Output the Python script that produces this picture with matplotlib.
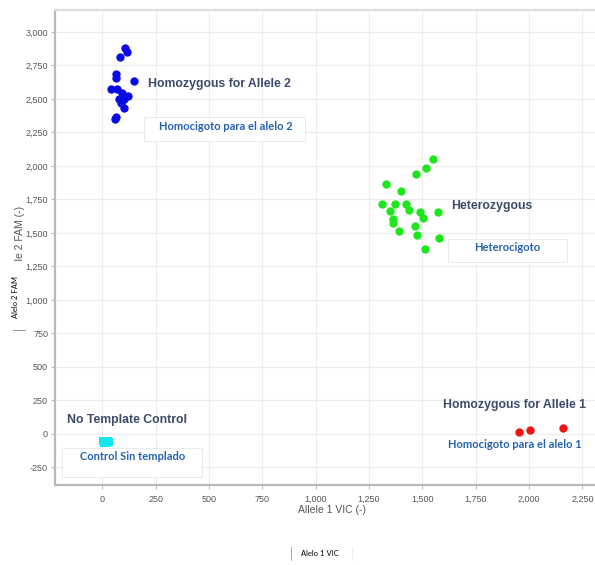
import matplotlib
matplotlib.use("Agg")
import matplotlib.pyplot as plt
from matplotlib.patches import Rectangle
from matplotlib.ticker import FuncFormatter

# ---------------- data ----------------
allele2_x = [104, 116, 81, 149, 66, 66, 42, 69, 92, 120, 76, 100, 88, 103, 66, 58]
allele2_y = [2880, 2847, 2814, 2635, 2685, 2660, 2578, 2578, 2541, 2523, 2503, 2498, 2468, 2436, 2369, 2348]

het_x = [1550, 1516, 1469, 1330, 1400, 1311, 1372, 1425, 1436, 1350, 1488, 1572, 1503, 1363, 1361, 1463, 1389, 1473, 1580, 1514]
het_y = [2049, 1987, 1942, 1868, 1812, 1713, 1718, 1713, 1670, 1665, 1655, 1658, 1613, 1606, 1571, 1551, 1513, 1483, 1463, 1381]

allele1_x = [1955, 2003, 2158]
allele1_y = [12, 30, 42]

ntc_x = [2, 8, 14, 20, 26, 30, 10, 22]
ntc_y = [-52, -60, -55, -62, -56, -60, -66, -66]

x_ticks = [0, 250, 500, 750, 1000, 1250, 1500, 1750, 2000, 2250]
y_ticks = [-250, 0, 250, 500, 750, 1000, 1250, 1500, 1750, 2000, 2250, 2500, 2750, 3000]

# ---------------- figure ----------------
fig = plt.figure(figsize=(5.95, 5.65), dpi=100)
W, H = 595, 565
ax = fig.add_axes([55 / W, 1 - 485 / H, 540 / W, 475 / H])

ax.set_xlim(-222, 2309)
ax.set_ylim(-381, 3164)

ax.grid(True, color="#ececec", linewidth=0.8, zorder=0)
ax.set_axisbelow(True)

ms = 36
ax.scatter(allele2_x, allele2_y, s=ms, color="#0a0ae6", zorder=3, linewidths=0)
ax.scatter(het_x, het_y, s=ms, color="#1ee61e", zorder=3, linewidths=0)
ax.scatter(allele1_x, allele1_y, s=ms, color="#ee1414", zorder=3, linewidths=0)
ax.scatter(ntc_x, ntc_y, s=ms, color="#10e8ee", zorder=3, linewidths=0, marker="s")

ax.set_xticks(x_ticks)
ax.set_yticks(y_ticks)
fmt = FuncFormatter(lambda v, p: f"{int(v):,}")
ax.xaxis.set_major_formatter(fmt)
ax.yaxis.set_major_formatter(fmt)
ax.tick_params(axis="both", length=3, width=0.6, color="#aaaaaa",
               labelsize=6.5, labelcolor="#555555")
ax.tick_params(axis="y", pad=2)
ax.tick_params(axis="x", pad=4)
for lab in ax.get_xticklabels() + ax.get_yticklabels():
    lab.set_family("Liberation Sans")

for side in ["left", "bottom"]:
    ax.spines[side].set_color("#b8b8b8")
    ax.spines[side].set_linewidth(1.6)
ax.spines["top"].set_color("#dddddd")
ax.spines["top"].set_linewidth(1.6)
ax.spines["right"].set_visible(False)

# white text boxes (as in the source slide)
box_kw = dict(facecolor="white", edgecolor="#e8e8e8", linewidth=0.6, zorder=2)
ax.add_patch(Rectangle((196, 2187), 754, 179, **box_kw))
ax.add_patch(Rectangle((1620, 1284), 558, 171, **box_kw))
ax.add_patch(Rectangle((-190, -321), 658, 217, **box_kw))

slate = "#3b4a6b"
blue = "#2462ae"
lab_font = "Liberation Sans"
es_font = "Lato"

ax.text(214, 2612, "Homozygous for Allele 2", color=slate, fontsize=8.8,
        fontweight="bold", family=lab_font, va="center", ha="left", zorder=4)
ax.text(577, 2291, "Homocigoto para el alelo 2", color=blue, fontsize=8,
        fontweight="bold", family=es_font, va="center", ha="center", zorder=4)
ax.text(1634, 1701, "Heterozygous", color=slate, fontsize=8.8,
        fontweight="bold", family=lab_font, va="center", ha="left", zorder=4)
ax.text(1896, 1388, "Heterocigoto", color=blue, fontsize=8,
        fontweight="bold", family=es_font, va="center", ha="center", zorder=4)
ax.text(1596, 216, "Homozygous for Allele 1", color=slate, fontsize=8.8,
        fontweight="bold", family=lab_font, va="center", ha="left", zorder=4)
ax.text(1620, -82, "Homocigoto para el alelo 1", color=blue, fontsize=8,
        fontweight="bold", family=es_font, va="center", ha="left", zorder=4)
ax.text(-165, 104, "No Template Control", color=slate, fontsize=8.8,
        fontweight="bold", family=lab_font, va="center", ha="left", zorder=4)
ax.text(-104, -172, "Control Sin templado", color=blue, fontsize=8,
        fontweight="bold", family=es_font, va="center", ha="left", zorder=4)

# axis titles
fig.text(332 / W, 1 - 510 / H, "Allele 1 VIC (-)", color="#555555", fontsize=7.5,
         family=lab_font, ha="center", va="center")
fig.text(20 / W, 1 - 242 / H, "Allele 2 FAM (-)", color="#555555", fontsize=7.5,
         family=lab_font, ha="center", va="center", rotation=90)

# overlay label boxes in figure space
fig.patches.append(Rectangle((9 / W, 1 - 328 / H), 15 / W, 66 / H,
                             transform=fig.transFigure, facecolor="white",
                             edgecolor="none", zorder=5))
fig.add_artist(plt.Line2D([13 / W, 25 / W], [1 - 329.5 / H, 1 - 329.5 / H],
                          transform=fig.transFigure, color="#999999", lw=0.7,
                          zorder=7))
fig.text(16 / W, 1 - 297 / H, "Alelo 2 FAM", color="black", fontsize=5.5,
         family=es_font, ha="center", va="center", rotation=90, zorder=6)

fig.add_artist(plt.Line2D([291 / W, 291 / W], [1 - 547 / H, 1 - 560 / H],
                          transform=fig.transFigure, color="#999999", lw=0.6))
fig.add_artist(plt.Line2D([352 / W, 352 / W], [1 - 547 / H, 1 - 560 / H],
                          transform=fig.transFigure, color="#eeeeee", lw=0.6))
fig.text(301 / W, 1 - 553 / H, "Alelo 1 VIC", color="black", fontsize=5.5,
         family=es_font, ha="left", va="center")

fig.savefig("out.png", dpi=100)
